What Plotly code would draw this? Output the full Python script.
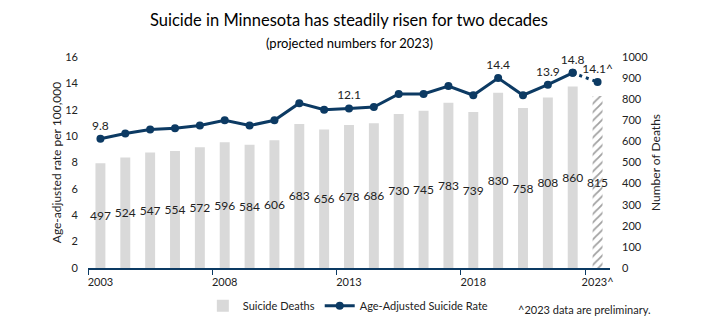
import plotly.graph_objects as go

years = list(range(2003, 2024))
deaths = [497, 524, 547, 554, 572, 596, 584, 606, 683, 656, 678, 686,
          730, 745, 783, 739, 830, 758, 808, 860, 815]
rates = [9.8, 10.2, 10.5, 10.6, 10.8, 11.2, 10.8, 11.2, 12.5, 12.0, 12.1, 12.2,
         13.2, 13.2, 13.8, 13.1, 14.4, 13.1, 13.9, 14.8, 14.1]
labeled_years = {2003: "9.8", 2013: "12.1", 2019: "14.4", 2021: "13.9", 2022: "14.8", 2023: "14.1^"}
tick_years = [2003, 2008, 2013, 2018, 2023]
tick_text = ["2003", "2008", "2013", "2018", "2023^"]

NAVY = "#0c3a63"
GRAY = "#d9d9d9"
FONT = "Lato"

n = len(years)
bar_colors = [GRAY] * (n - 1) + ["white"]
bar_shapes = [""] * (n - 1) + ["/"]
line_text = [labeled_years.get(y, "") for y in years]
solid_text = line_text[:-1]
dotted_text = [""] + line_text[-1:]

fig = go.Figure()
fig.add_trace(go.Bar(
    x=years, y=deaths, name="Suicide Deaths", yaxis="y", width=0.4,
    marker=dict(color=bar_colors, line=dict(width=0),
                pattern=dict(shape=bar_shapes, fgcolor="#c8c8c8", size=6, solidity=0.3)),
    text=[str(d) for d in deaths], textposition="inside", insidetextanchor="middle",
    textangle=0, constraintext="none",
    insidetextfont=dict(family=FONT, size=12, color="#222"),
    hoverinfo="skip",
))
fig.add_trace(go.Scatter(
    x=years[-2:], y=rates[-2:], yaxis="y2", showlegend=False,
    mode="lines+markers+text", text=dotted_text, textposition="top center",
    textfont=dict(family=FONT, size=12, color="#222"), cliponaxis=False,
    line=dict(color=NAVY, width=3, dash="3px,4px"), marker=dict(color=NAVY, size=8),
))
fig.add_trace(go.Scatter(
    x=years[:-1], y=rates[:-1], name="Age-Adjusted Suicide Rate", yaxis="y2",
    mode="lines+markers+text", text=solid_text, textposition="top center",
    textfont=dict(family=FONT, size=12, color="#222"), cliponaxis=False,
    line=dict(color=NAVY, width=3), marker=dict(color=NAVY, size=8),
))

fig.update_layout(
    width=706, height=332,
    margin=dict(l=88, r=96, t=57, b=62),
    paper_bgcolor="white", plot_bgcolor="white",
    font=dict(family=FONT, size=11, color="#222"),
    title=dict(
        text="Suicide in Minnesota has steadily risen for two decades",
        x=0.5, xanchor="center", xref="paper", y=1 - 20 / 332, yanchor="middle",
        font=dict(family=FONT, size=16.5, color="black"),
    ),
    xaxis=dict(
        range=[2002.5, 2023.5], tickvals=tick_years, ticktext=tick_text,
        ticks="", showgrid=False, zeroline=False, ticklabelstandoff=3,
        showline=True, linecolor=NAVY, linewidth=1.5,
        tickfont=dict(size=11),
        minor=dict(tickvals=[y - 0.5 for y in tick_years], ticks="outside",
                   ticklen=5, tickcolor=NAVY, showgrid=False),
    ),
    yaxis=dict(
        side="right", range=[0, 1000], dtick=100, showgrid=False, zeroline=False,
        ticklabelstandoff=11,
        title=dict(text="Number of Deaths", font=dict(size=12), standoff=4),
        tickfont=dict(size=11),
    ),
    yaxis2=dict(
        side="left", overlaying="y", range=[0, 16], dtick=2, showgrid=False, zeroline=False,
        ticklabelstandoff=9,
        title=dict(text="Age-adjusted rate per 100,000", font=dict(size=12), standoff=1),
        tickfont=dict(size=11),
    ),
    legend=dict(orientation="h", x=0.22, y=-0.11, xanchor="left", yanchor="top",
                font=dict(size=11), bgcolor="rgba(0,0,0,0)", traceorder="normal"),
    annotations=[
        dict(text="(projected numbers for 2023)", xref="paper", yref="paper",
             x=0.5, y=(270 - 43) / 213, xanchor="center", yanchor="middle", showarrow=False,
             font=dict(size=13, color="black")),
        dict(text="^2023 data are preliminary.", xref="paper", yref="paper",
             x=0.82, y=-0.155, xanchor="left", yanchor="top", showarrow=False,
             font=dict(size=11, color="#222")),
    ],
    barmode="overlay",
)

fig.write_html("out.html")
